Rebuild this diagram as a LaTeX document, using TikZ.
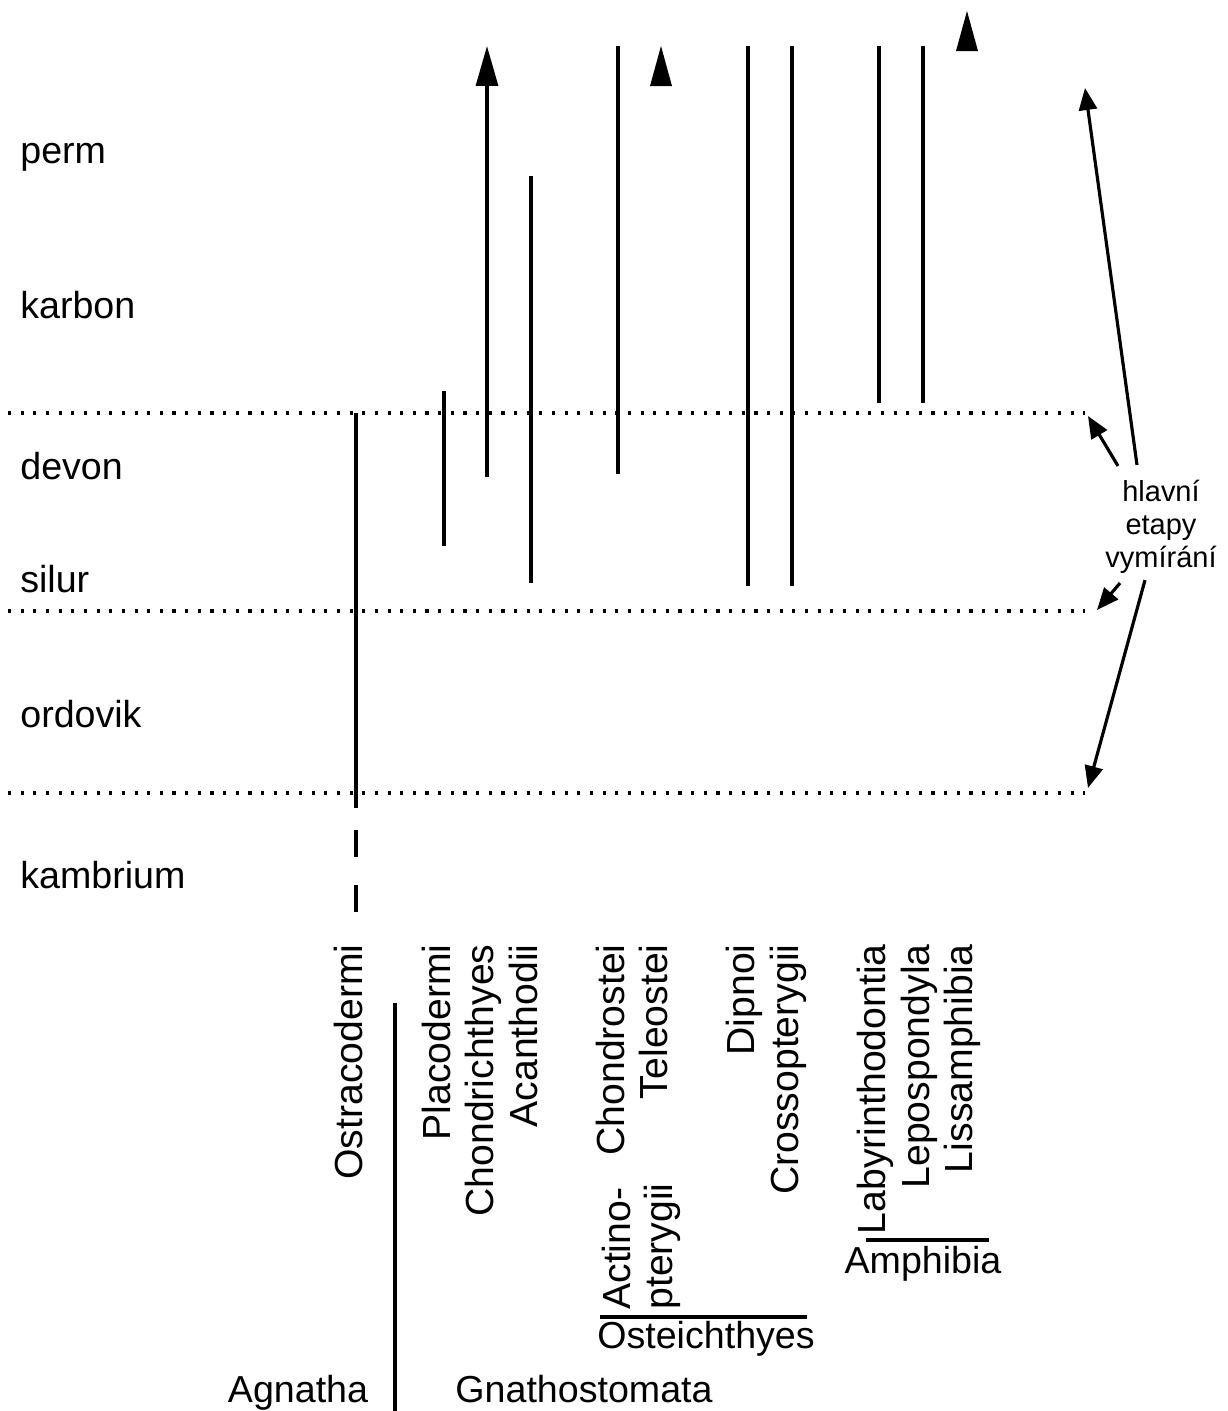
\documentclass[tikz,border=0pt]{standalone}
\usepackage{fontspec}
\setmainfont{Liberation Sans}
\usetikzlibrary{arrows.meta}

\begin{document}
\begin{tikzpicture}[
    x=0.02cm, y=-0.02cm,
    >={Triangle[length=0.8cm, width=0.44cm]},
    period/.style={anchor=base west, inner sep=0pt, font=\fontsize{21.4}{24}\selectfont},
    taxon/.style={rotate=90, anchor=base east, inner sep=0pt, font=\fontsize{22.3}{24}\selectfont},
    grouplbl/.style={anchor=base, inner sep=0pt, font=\fontsize{21.4}{24}\selectfont},
    etapylbl/.style={align=center, inner sep=0pt, font=\fontsize{16.5}{18.8}\selectfont},
    lifeline/.style={line width=1.8pt},
    epoch/.style={line width=1.8pt, dash pattern=on 1.8pt off 5.4pt},
    exarr/.style={line width=1.8pt, -{Triangle[length=0.44cm, width=0.36cm]}},
    tiphead/.pic={\fill (0,0) -- (-11,40) -- (11,40) -- cycle;}
]
\useasboundingbox (0,0) rectangle (1228,1411);

\node[period] (perm)  at (20,163) {perm};
\node[period] (karb)  at (20,318) {karbon};
\node[period] (devon) at (20,479) {devon};
\node[period] (silur) at (20,592) {silur};
\node[period] (ordo)  at (20,727) {ordovik};
\node[period] (kamb)  at (20,888) {kambrium};

\coordinate (devTop) at (1085,413);
\coordinate (silBot) at (1085,611);
\coordinate (ordBot) at (1085,793);
\draw[epoch] (8,413) -- (devTop);
\draw[epoch] (8,611) -- (silBot);
\draw[epoch] (8,793) -- (ordBot);

\draw[lifeline] (356,413) -- (356,808);
\draw[lifeline, dash pattern=on 15.4pt off 15.9pt] (356,830) -- (356,912);
\draw[lifeline] (444,391) -- (444,546);
\draw[lifeline, ->] (487,477) -- (487,46);
\draw[lifeline] (531,176) -- (531,583);
\draw[lifeline] (618,46) -- (618,474);
\pic at (661,46) {tiphead};
\draw[lifeline] (748,46) -- (748,586);
\draw[lifeline] (792,46) -- (792,586);
\draw[lifeline] (879,46) -- (879,403);
\draw[lifeline] (923,46) -- (923,403);
\pic at (967,11) {tiphead};

\node[taxon] (ostra) at (362,944) {Ostracodermi};
\node[taxon] (placo) at (450,944) {Placodermi};
\node[taxon] (chondri) at (493,944) {Chondrichthyes};
\node[taxon] (acanth) at (537,944) {Acanthodii};
\node[taxon] (chondro) at (624,944) {Chondrostei};
\node[taxon] (teleo) at (667,944) {Teleostei};
\node[taxon] (dipnoi) at (754,944) {Dipnoi};
\node[taxon] (cross) at (798,944) {Crossopterygii};
\node[taxon] (laby) at (885,944) {Labyrinthodontia};
\node[taxon] (lepo) at (929,944) {Lepospondyla};
\node[taxon] (lissa) at (972,944) {Lissamphibia};
\node[taxon, align=left, anchor=north west] (actino) at (602,1310) {Actino-\\pterygii};

\draw[lifeline] (600,1317) -- (807,1317);
\node[grouplbl] (osteo) at (706,1348) {Osteichthyes};
\draw[lifeline] (866,1240) -- (989,1240);
\node[grouplbl] (amph) at (923,1273) {Amphibia};

\draw[lifeline] (395,1003) -- (395,1411);
\node[grouplbl] (agn) at (298,1402) {Agnatha};
\node[grouplbl] (gnath) at (584,1402) {Gnathostomata};

\node[etapylbl] (etapy) at (1161,527) {hlavní\\etapy\\vymírání};
\coordinate (permTop) at (1085,88);
\draw[exarr] ([xshift=-0.48cm, yshift=0.30cm]etapy.north) -- (permTop);
\draw[exarr] ([xshift=-0.86cm, yshift=0.28cm]etapy.north) -- ([xshift=0.06cm, yshift=-0.06cm]devTop);
\draw[exarr] ([xshift=-0.82cm, yshift=-0.18cm]etapy.south) -- ([xshift=0.24cm, yshift=0.02cm]silBot);
\draw[exarr] ([xshift=-0.32cm, yshift=-0.12cm]etapy.south) -- ([xshift=0.06cm, yshift=0.10cm]ordBot);
\end{tikzpicture}
\end{document}
